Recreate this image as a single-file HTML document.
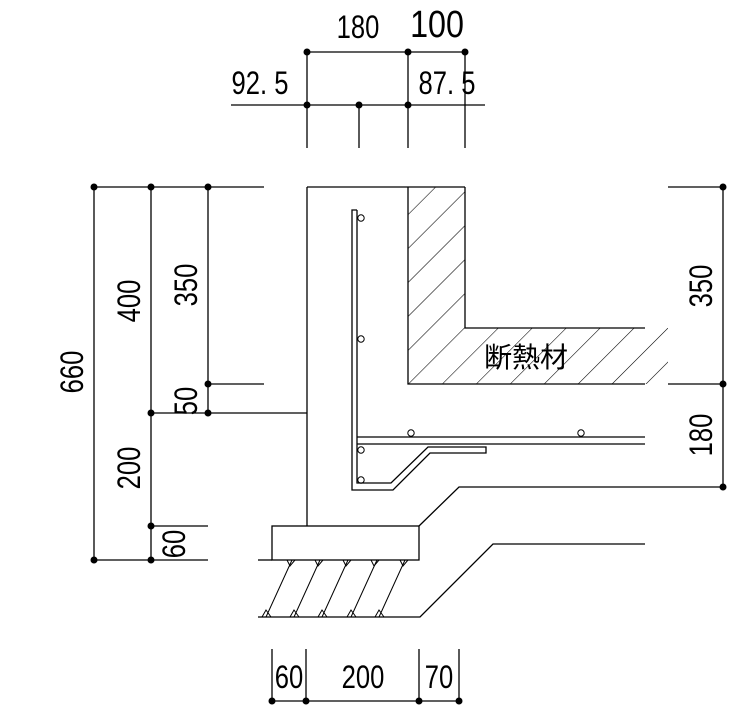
<!DOCTYPE html>
<html><head><meta charset="utf-8"><style>
html,body{margin:0;padding:0;background:#fff;}
svg{display:block;}
text{font-family:"Liberation Sans","Noto Sans CJK JP",sans-serif;fill:#000;}
</style></head><body>
<svg width="740" height="712" viewBox="0 0 740 712" xmlns="http://www.w3.org/2000/svg">
<defs>
<clipPath id="ins"><polygon points="408,187 465,187 465,328 668,328 668,384 408,384"/></clipPath>
<pattern id="hp" patternUnits="userSpaceOnUse" width="24" height="24" patternTransform="rotate(45 408 384)">
<line x1="0" y1="0" x2="0" y2="24" stroke="#000" stroke-width="1.1"/>
</pattern>
</defs>
<rect x="400" y="180" width="280" height="210" fill="url(#hp)" clip-path="url(#ins)"/>
<g stroke="#000" stroke-width="1.3" fill="none">
<!-- top dims -->
<line x1="307" y1="52" x2="465" y2="52"/>
<line x1="231" y1="105" x2="485" y2="105"/>
<line x1="307" y1="52" x2="307" y2="148"/>
<line x1="408" y1="52" x2="408" y2="148"/>
<line x1="465" y1="52" x2="465" y2="148"/>
<line x1="359" y1="105" x2="359" y2="148"/>
<!-- left dims -->
<line x1="94" y1="187" x2="264" y2="187"/>
<line x1="94" y1="187" x2="94" y2="560"/>
<line x1="151" y1="187" x2="151" y2="560"/>
<line x1="208" y1="187" x2="208" y2="413"/>
<line x1="208" y1="384" x2="264" y2="384"/>
<line x1="151" y1="413" x2="307" y2="413"/>
<line x1="151" y1="526" x2="208" y2="526"/>
<line x1="94" y1="560" x2="208" y2="560"/>
<!-- right dims -->
<line x1="668" y1="187" x2="723" y2="187"/>
<line x1="723" y1="187" x2="723" y2="487"/>
<line x1="668" y1="384" x2="723" y2="384"/>
<!-- bottom dims -->
<line x1="272" y1="701" x2="459" y2="701"/>
<line x1="272" y1="649" x2="272" y2="701"/>
<line x1="306" y1="649" x2="306" y2="701"/>
<line x1="419" y1="649" x2="419" y2="701"/>
<line x1="459" y1="649" x2="459" y2="701"/>
<!-- wall -->
<line x1="307" y1="187" x2="465" y2="187"/>
<line x1="307" y1="187" x2="307" y2="526"/>
<!-- insulation -->
<polyline points="408,187 408,384 645,384"/>
<polyline points="465,187 465,328 645,328"/>
<!-- footing -->
<rect x="272" y="526" width="147" height="34"/>
<line x1="258" y1="560" x2="272" y2="560"/>
<polyline points="258,617 420,617 493,544 645,544"/>
<polyline points="419,526 459,487 723,487"/>
<g stroke-width="1">
<line x1="266" y1="617" x2="292" y2="560"/>
<line x1="294" y1="617" x2="320" y2="560"/>
<line x1="322" y1="617" x2="348" y2="560"/>
<line x1="351" y1="617" x2="377" y2="560"/>
<line x1="379" y1="617" x2="405" y2="560"/>
<polyline points="262,617 266,610 271,617"/>
<polyline points="290,617 294,610 299,617"/>
<polyline points="318,617 322,610 327,617"/>
<polyline points="347,617 351,610 356,617"/>
<polyline points="375,617 379,610 384,617"/>
<polyline points="287,560 290,566 295,560"/>
<polyline points="315,560 318,566 323,560"/>
<polyline points="343,560 346,566 351,560"/>
<polyline points="371,560 374,566 379,560"/>
<polyline points="400,560 403,566 408,560"/>
</g>
<!-- rebar -->
<polyline points="357,210 352,210 352,490 393,490 430,453 486,453 486,447 428,447 391,483 357,483 357,210"/>
<line x1="357" y1="437" x2="645" y2="437"/>
<line x1="357" y1="444" x2="645" y2="444"/>
<g stroke-width="1">
<circle cx="361" cy="218" r="3.2"/>
<circle cx="361" cy="339" r="3.2"/>
<circle cx="411" cy="433" r="3.2"/>
<circle cx="581" cy="433" r="3.2"/>
<circle cx="361" cy="450" r="3.2"/>
<circle cx="361" cy="480" r="3.2"/>
</g>
</g>
<g fill="#000">
<circle cx="307" cy="52" r="3.5"/><circle cx="408" cy="52" r="3.5"/><circle cx="465" cy="52" r="3.5"/>
<circle cx="307" cy="105" r="3.5"/><circle cx="359" cy="105" r="3.5"/><circle cx="408" cy="105" r="3.5"/>
<circle cx="94" cy="187" r="3.5"/><circle cx="151" cy="187" r="3.5"/><circle cx="208" cy="187" r="3.5"/>
<circle cx="208" cy="384" r="3.5"/><circle cx="151" cy="413" r="3.5"/><circle cx="208" cy="413" r="3.5"/>
<circle cx="151" cy="526" r="3.5"/><circle cx="94" cy="560" r="3.5"/><circle cx="151" cy="560" r="3.5"/>
<circle cx="723" cy="187" r="3.5"/><circle cx="723" cy="384" r="3.5"/><circle cx="723" cy="487" r="3.5"/>
<circle cx="272" cy="701" r="3.5"/><circle cx="306" cy="701" r="3.5"/><circle cx="419" cy="701" r="3.5"/><circle cx="459" cy="701" r="3.5"/>
</g>
<g font-size="32" text-anchor="middle">
<text transform="translate(358,38) scale(0.8,1)">180</text>
<text transform="translate(437,37) scale(0.85,1)" font-size="38">100</text>
<text transform="translate(260,94) scale(0.8,1)">92. 5</text>
<text transform="translate(447,94) scale(0.8,1)">87. 5</text>
<text transform="translate(289,688) scale(0.8,1)">60</text>
<text transform="translate(363,688) scale(0.8,1)">200</text>
<text transform="translate(439,688) scale(0.8,1)">70</text>
<text transform="translate(83,372) rotate(-90) scale(0.8,1)">660</text>
<text transform="translate(140,301) rotate(-90) scale(0.8,1)">400</text>
<text transform="translate(197,285) rotate(-90) scale(0.8,1)">350</text>
<text transform="translate(197,401) rotate(-90) scale(0.8,1)">50</text>
<text transform="translate(140,468) rotate(-90) scale(0.8,1)">200</text>
<text transform="translate(185,544) rotate(-90) scale(0.8,1)">60</text>
<text transform="translate(712,286) rotate(-90) scale(0.8,1)">350</text>
<text transform="translate(712,435) rotate(-90) scale(0.8,1)">180</text>
<text x="526" y="367" font-size="28">断熱材</text>
</g>
</svg>
</body></html>
